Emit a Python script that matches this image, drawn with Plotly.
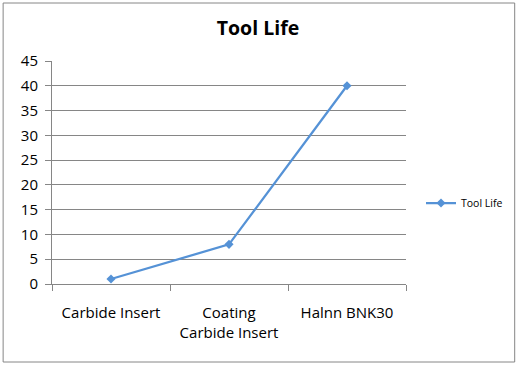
import plotly.graph_objects as go

categories = ["Carbide Insert", "Coating<br>Carbide Insert", "Halnn BNK30"]
tool_life = [1, 8, 40]
y_ticks = [0, 5, 10, 15, 20, 25, 30, 35, 40, 45]

W, H = 519, 365
L, R, T, B = 52, 112, 61, 81
pw, ph = W - L - R, H - T - B

grey = "#868686"
blue = "#5592D6"
font = "'Open Sans', sans-serif"

fig = go.Figure()
fig.add_trace(go.Scatter(
    x=categories, y=tool_life, mode="lines+markers", name="Tool Life",
    line=dict(color=blue, width=2.25),
    marker=dict(symbol="diamond", size=7, color=blue),
))

def px2x(p):
    return (p - L) / pw

def px2y(p):
    return (H - B - p) / ph

fig.add_shape(type="rect", xref="paper", yref="paper",
              x0=px2x(3), x1=px2x(516), y0=px2y(362), y1=px2y(3),
              line=dict(color=grey, width=1), layer="below")

fig.update_layout(
    width=W, height=H,
    margin=dict(l=L, r=R, t=T, b=B),
    paper_bgcolor="white", plot_bgcolor="white",
    font=dict(family=font, color="black", size=15),
    title=dict(text="<b>Tool Life</b>", x=258 / W, xanchor="center",
               y=1 - 28 / H, yanchor="middle", font=dict(size=19.5, family=font, color="black")),
    showlegend=True,
    legend=dict(x=px2x(421), y=px2y(203), xanchor="left", yanchor="middle",
                font=dict(size=10.5, family=font), bgcolor="rgba(0,0,0,0)",
                itemwidth=30),
    xaxis=dict(type="category", range=[-0.5, 2.5], showgrid=False,
               showline=True, linecolor=grey, linewidth=1,
               ticks="outside", tickson="boundaries", ticklen=6, tickcolor=grey,
               tickfont=dict(size=15, family=font), ticklabelstandoff=15),
    yaxis=dict(range=[0, 45], tickvals=y_ticks, showgrid=True, gridcolor=grey,
               gridwidth=1, zeroline=False, showline=True, linecolor=grey,
               ticks="outside", ticklen=6, tickcolor=grey,
               tickfont=dict(size=15, family=font), ticklabelstandoff=4),
)

fig.write_html("out.html", config={"displayModeBar": False},
               post_script="document.body.style.margin='0';")
